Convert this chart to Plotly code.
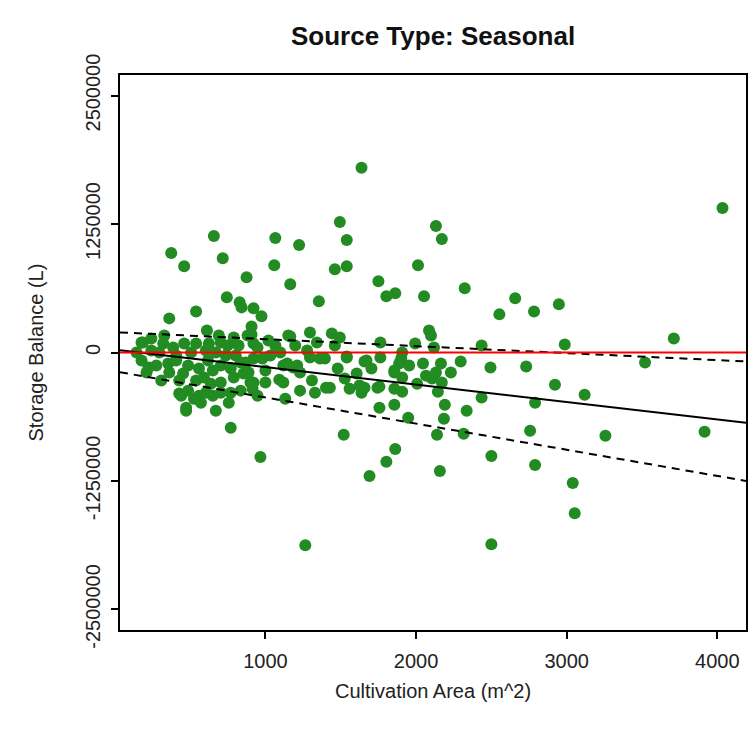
import plotly.graph_objects as go

# Cultivation area (m^2) and storage balance (L)
area = [1638, 4034, 1494, 2132, 1540, 2171, 658, 1066, 1224, 375,
        461, 717, 1059, 1461, 1540, 875, 1165, 2013, 1750, 1803,
        1862, 2053, 2323, 2553, 2658, 2783, 2948, 2987, 3711, 3520,
        2922, 3119, 3257, 3915, 3040, 3053, 362, 540, 744, 829,
        842, 921, 974, 908, 908, 1355, 1441, 1494, 2086, 2099,
        1763, 1994, 2435, 2119, 1540, 1658, 1763, 1902, 1888, 2046,
        2165, 2296, 2494, 2731, 1606, 1856, 1908, 2066, 2132, 2106,
        2171, 1559, 1638, 1625, 1744, 1856, 1908, 2145, 2435, 2790,
        1428, 1757, 1856, 2191, 2336, 1948, 2185, 1520, 2139, 2316,
        2757, 1862, 1803, 1691, 2500, 2790, 2158, 2500, 1908, 1856,
        1757, 612, 691, 178, 322, 461, 540, 625, 704, 750,
        178, 224, 211, 355, 362, 487, 454, 559, 592, 619,
        704, 770, 638, 704, 790, 855, 901, 428, 487, 559,
        474, 526, 704, 770, 836, 915, 948, 921, 882, 790,
        1296, 1165, 1066, 1277, 1362, 1119, 1184, 1092, 1119, 1230,
        1329, 1402, 1132, 770, 967, 474, 441, 1152, 1342, 948,
        1395, 1540, 1671, 921, 1145, 1211, 921, 1658, 1296, 1265,
        243, 408, 671, 803, 309, 869, 1000, 1033, 651, 757,
        572, 329, 187, 145, 243, 276, 296, 388, 408, 428,
        507, 540, 605, 651, 737, 822, 836, 888, 980, 1000,
        1020, 1099, 1198, 1230, 1309, 1461, 1480, 1527, 1704, 1954,
        2007, 2231, 671, 605]
balance = [1797000, 1406000, 1270000, 1231000, 1094000, 1104000, 1133000, 1113000, 1045000, 967000,
           840000, 918000, 850000, 811000, 840000, 732000, 664000, 850000, 693000, 547000,
           576000, 547000, 625000, 371000, 527000, 400000, 469000, 78000, 137000, -98000,
           -313000, -410000, -811000, -772000, -1270000, -1563000, 332000, 400000, 537000, 488000,
           439000, 430000, 352000, 254000, 176000, 498000, 186000, 146000, 215000, 166000,
           98000, 88000, 68000, 49000, -39000, -88000, -49000, -59000, -107000, -107000,
           -107000, -88000, -146000, -137000, -205000, -195000, -244000, -225000, -195000, -254000,
           -293000, -352000, -391000, -322000, -342000, -352000, -381000, -381000, -439000, -488000,
           -342000, -537000, -508000, -508000, -566000, -635000, -645000, -801000, -801000, -791000,
           -762000, -938000, -1064000, -1201000, -1006000, -1094000, -1152000, -1865000, 0, -176000,
           -332000, 215000, 166000, 98000, 88000, 88000, 88000, 88000, 98000, 68000,
           -78000, -146000, -195000, -107000, -195000, -127000, -205000, -156000, -244000, -78000,
           -127000, -156000, -303000, -293000, -244000, -205000, -293000, -400000, -371000, -420000,
           -537000, -449000, -391000, -391000, -371000, -352000, -420000, 88000, 166000, 146000,
           195000, 156000, 68000, 20000, -59000, -127000, -146000, -264000, -293000, -371000,
           -391000, -342000, -449000, -732000, -1016000, -566000, -420000, 166000, 98000, 49000,
           -59000, -49000, -78000, -59000, -107000, -127000, -293000, -342000, -49000, -1875000,
           20000, -29000, 0, -29000, -273000, -98000, -176000, -29000, -420000, -488000,
           -488000, 166000, 98000, 0, 137000, -127000, 0, 49000, -78000, -273000,
           0, -273000, 20000, -176000, -29000, 68000, -98000, -195000, -59000, -293000,
           117000, 0, 68000, -195000, -273000, 68000, -156000, -254000, -156000, -127000,
           -303000, -195000, -566000, -391000]

# Fitted line and band coefficients [intercept, slope]
fit_coef = [28000, -170.0]
upper_coef = [198000, -68.0]
lower_coef = [-183000, -254.5]
zero_level = [0, 0]

x_range = [35, 4190]
y_range = [-2700000, 2700000]
xtick_vals = [1000, 2000, 3000, 4000]
xtick_text = ["1000", "2000", "3000", "4000"]
ytick_vals = [-2500000, -1250000, 0, 1250000, 2500000]
ytick_text = ["-2500000", "-1250000", "0", "1250000", "2500000"]

title_text = "<b>Source Type: Seasonal</b>"
x_title = "Cultivation Area (m^2)"
y_title = "Storage Balance (L)"

FONT = "Liberation Sans, Arial, Helvetica, sans-serif"


def line_y(coef, xs):
    return [coef[0] + coef[1] * x for x in xs]


fig = go.Figure()
fig.add_trace(go.Scatter(
    x=area, y=balance, mode="markers",
    marker=dict(color="#228B22", size=12, line=dict(width=0)),
    hoverinfo="skip", showlegend=False))
fig.add_trace(go.Scatter(
    x=x_range, y=line_y(fit_coef, x_range), mode="lines",
    line=dict(color="black", width=2), showlegend=False))
fig.add_trace(go.Scatter(
    x=x_range, y=line_y(upper_coef, x_range), mode="lines",
    line=dict(color="black", width=2, dash="8px,6px"), showlegend=False))
fig.add_trace(go.Scatter(
    x=x_range, y=line_y(lower_coef, x_range), mode="lines",
    line=dict(color="black", width=2, dash="8px,6px"), showlegend=False))
fig.add_trace(go.Scatter(
    x=x_range, y=line_y(zero_level, x_range), mode="lines",
    line=dict(color="#FF0000", width=2), showlegend=False))

fig.update_layout(
    width=752, height=735,
    margin=dict(l=120, r=4, t=75, b=105),
    paper_bgcolor="white", plot_bgcolor="white",
    font=dict(family=FONT, color="#222222", size=20),
    showlegend=False,
    annotations=[
        dict(text=title_text, xref="paper", yref="paper", x=0.5, y=1,
             xanchor="center", yanchor="middle", yshift=39, showarrow=False,
             font=dict(size=26, color="#111111", family=FONT)),
        dict(text=x_title, xref="paper", yref="paper", x=0.5, y=0,
             xanchor="center", yanchor="middle", yshift=-61, showarrow=False,
             font=dict(size=20, color="#222222", family=FONT)),
        dict(text=y_title, xref="paper", yref="paper", x=0, y=0.5,
             xanchor="center", yanchor="middle", xshift=-85, textangle=-90,
             showarrow=False, font=dict(size=20, color="#222222", family=FONT)),
    ],
)
fig.update_xaxes(
    range=x_range, tickvals=xtick_vals, ticktext=xtick_text,
    showgrid=False, zeroline=False, showline=True, mirror=True,
    linecolor="black", linewidth=2, ticks="outside", ticklen=7,
    tickwidth=1.5, tickcolor="black", ticklabelstandoff=5,
    tickfont=dict(size=20, color="#222222"))
fig.update_yaxes(
    range=y_range, tickvals=ytick_vals, ticktext=ytick_text, tickangle=-90,
    showgrid=False, zeroline=False, showline=True, mirror=True,
    linecolor="black", linewidth=2, ticks="outside", ticklen=7,
    tickwidth=1.5, tickcolor="black", ticklabelstandoff=3,
    tickfont=dict(size=20, color="#222222"))

fig.write_html("out.html")
